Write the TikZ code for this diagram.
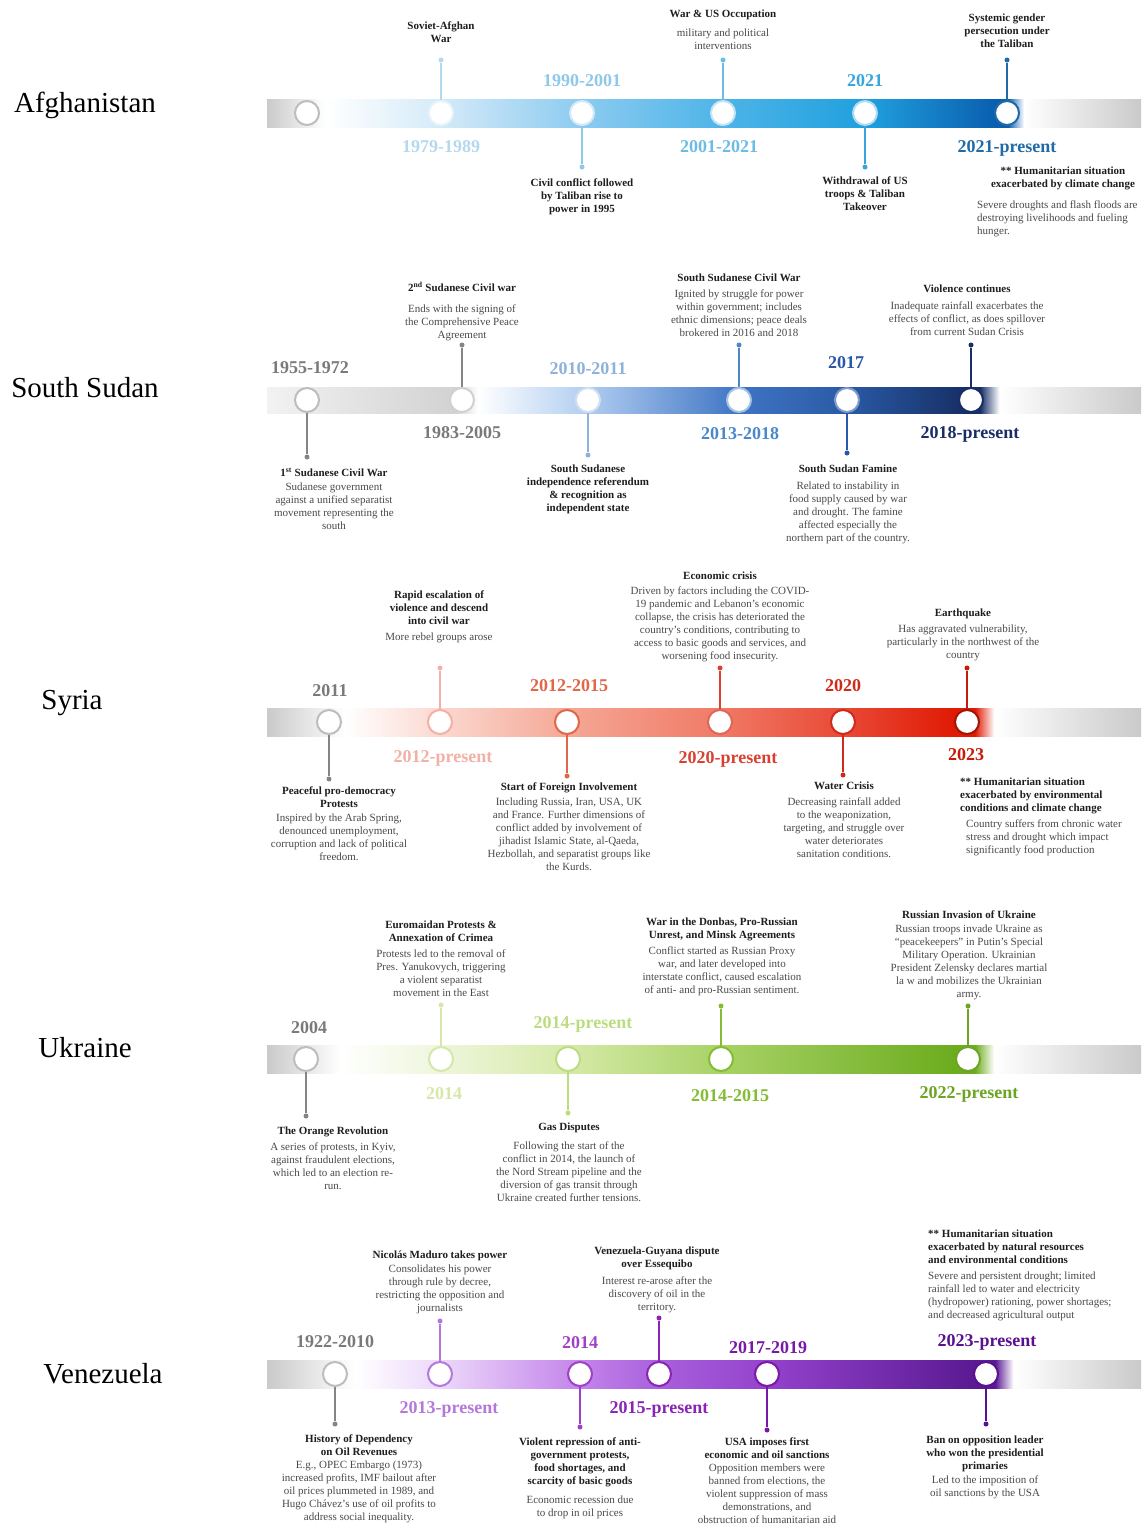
\documentclass[tikz,border=0pt]{standalone}
\usepackage{fontspec}
\setmainfont{Liberation Serif}
\usetikzlibrary{positioning}

% text colours
\definecolor{ttlc}{HTML}{1E1E1E}
\definecolor{bodyc}{HTML}{4A4A4A}
\definecolor{barGray}{HTML}{CACACA}
\definecolor{stemGray}{HTML}{858585}
\definecolor{ringGray}{HTML}{BDBDBD}
\definecolor{yrGray}{HTML}{7A7A7A}

% afghanistan
\definecolor{afg1}{HTML}{B4D8EE}
\definecolor{afg2}{HTML}{8EC8EA}
\definecolor{afg3}{HTML}{6CBCE6}
\definecolor{afg4}{HTML}{38A6DC}
\definecolor{afg5}{HTML}{1F6AA8}
\definecolor{afgbA}{HTML}{D4EAF8}
\definecolor{afgbB}{HTML}{8CCBF0}
\definecolor{afgbC}{HTML}{4DB4E8}
\definecolor{afgbD}{HTML}{20A0DE}
\definecolor{afgbE}{HTML}{0A5FB0}

% south sudan
\definecolor{ss1}{HTML}{8FB2DC}
\definecolor{ss2}{HTML}{4A88C8}
\definecolor{ss3}{HTML}{2A58A8}
\definecolor{ss4}{HTML}{1A2D66}
\definecolor{ssbA}{HTML}{F2F2F2}
\definecolor{ssbB}{HTML}{D2D2D2}
\definecolor{ssbC}{HTML}{B0CDF0}
\definecolor{ssbD}{HTML}{3F74C4}
\definecolor{ssbE}{HTML}{2A5AA5}
\definecolor{ssbF}{HTML}{162F66}

% syria
\definecolor{syr1}{HTML}{F2B0A6}
\definecolor{syr2}{HTML}{E06848}
\definecolor{syr3}{HTML}{D84030}
\definecolor{syr4}{HTML}{D02A1A}
\definecolor{syr5}{HTML}{C81A08}
\definecolor{syrbA}{HTML}{FBD8D0}
\definecolor{syrbB}{HTML}{F5A896}
\definecolor{syrbC}{HTML}{F07A66}
\definecolor{syrbD}{HTML}{E84A36}
\definecolor{syrbE}{HTML}{E01A04}

% ukraine
\definecolor{ukr1}{HTML}{D6E8A8}
\definecolor{ukr2}{HTML}{BCDC80}
\definecolor{ukr3}{HTML}{84BC34}
\definecolor{ukr4}{HTML}{6CA424}
\definecolor{ukrbA}{HTML}{EEF6DC}
\definecolor{ukrbB}{HTML}{D6EAA8}
\definecolor{ukrbC}{HTML}{A8D266}
\definecolor{ukrbD}{HTML}{6CAC1E}

% venezuela
\definecolor{ven1}{HTML}{B478DC}
\definecolor{ven2}{HTML}{A040C8}
\definecolor{ven3}{HTML}{8A24B8}
\definecolor{ven4}{HTML}{7A18A8}
\definecolor{ven5}{HTML}{5A1090}
\definecolor{venbA}{HTML}{ECD8FA}
\definecolor{venbB}{HTML}{C384EA}
\definecolor{venbC}{HTML}{A860DC}
\definecolor{venbD}{HTML}{9442CC}
\definecolor{venbE}{HTML}{5A1A92}

% bar shadings (25bp = left end of bar, 75bp = right end)
\pgfdeclarehorizontalshading{afgbar}{100bp}{color(0bp)=(barGray); color(25bp)=(barGray);
  color(28.3bp)=(white); color(34.95bp)=(afgbA); color(43.02bp)=(afgbB);
  color(51.09bp)=(afgbC); color(59.21bp)=(afgbD); color(66.65bp)=(afgbE);
  color(67.39bp)=(afgbE); color(68.3bp)=(white); color(75bp)=(barGray); color(100bp)=(barGray)}
\pgfdeclarehorizontalshading{ssbar}{100bp}{color(0bp)=(ssbA); color(25bp)=(ssbA);
  color(35.76bp)=(ssbB); color(37.07bp)=(white); color(43.36bp)=(ssbC);
  color(52bp)=(ssbD); color(58.18bp)=(ssbE); color(64.93bp)=(ssbF);
  color(65.79bp)=(ssbF); color(66.9bp)=(white); color(75bp)=(barGray); color(100bp)=(barGray)}
\pgfdeclarehorizontalshading{syrbar}{100bp}{color(0bp)=(barGray); color(25bp)=(barGray);
  color(29.46bp)=(white); color(34.9bp)=(syrbA); color(42.16bp)=(syrbB);
  color(50.92bp)=(syrbC); color(57.95bp)=(syrbD); color(64.36bp)=(syrbE);
  color(65.5bp)=(syrbE); color(66.6bp)=(white); color(75bp)=(barGray); color(100bp)=(barGray)}
\pgfdeclarehorizontalshading{ukrbar}{100bp}{color(0bp)=(barGray); color(25bp)=(barGray);
  color(29.18bp)=(white); color(34.95bp)=(ukrbA); color(42.22bp)=(ukrbB);
  color(50.97bp)=(ukrbC); color(64.36bp)=(ukrbD); color(65.5bp)=(ukrbD);
  color(66.6bp)=(white); color(75bp)=(barGray); color(100bp)=(barGray)}
\pgfdeclarehorizontalshading{venbar}{100bp}{color(0bp)=(barGray); color(25bp)=(barGray);
  color(30.03bp)=(white); color(34.9bp)=(venbA); color(42.91bp)=(venbB);
  color(47.43bp)=(venbC); color(53.61bp)=(venbD); color(65.5bp)=(venbE);
  color(66.65bp)=(venbE); color(67.7bp)=(white); color(75bp)=(barGray); color(100bp)=(barGray)}

\newcommand{\evtitle}[1]{\textcolor{ttlc}{\bfseries #1}}

\begin{document}
\begin{tikzpicture}[
  x=1pt, y=-1pt,
  evt/.style={circle,draw=#1,fill=white,line width=2pt,minimum size=24pt,inner sep=0pt},
  dot/.style={circle,fill=#1,inner sep=0pt,minimum size=5pt},
  stem/.style={draw=#1,line width=1.6pt},
  txt/.style={align=center,anchor=north,inner sep=0pt,text=bodyc,font=\fontsize{11}{13}\selectfont},
  note/.style={align=left,anchor=north west,inner sep=0pt,text=bodyc,font=\fontsize{11}{13}\selectfont},
  yr/.style={anchor=base,inner sep=0pt,text=#1,font=\fontsize{18}{20}\selectfont\bfseries},
  ctry/.style={inner sep=0pt,font=\fontsize{29}{32}\selectfont}
]
  \useasboundingbox (0,0) rectangle (1141,1524);
  \fill[white] (0,0) rectangle (1141,1524);

  % ---------------- afghanistan
  \node[ctry] (afg) at (85,105) {Afghanistan};
  \shade[shading=afgbar] (267,99) rectangle (1141,127);

  \node[evt=ringGray] (a1) at (307,113) {};
  \node[evt=afg1!30!white] (a2) at (441,113) {};
  \node[evt=afg2!40!white] (a3) at (582,113) {};
  \node[evt=afg3!40!white] (a4) at (723,113) {};
  \node[evt=afg4!40!white] (a5) at (865,113) {};
  \node[evt=afg5] (a6) at (1007,113) {};

  \node[dot=afg1] (a2d) at (441,60) {};
  \node[dot=afg2] (a3d) at (582,167) {};
  \node[dot=afg3] (a4d) at (723,60) {};
  \node[dot=afg4] (a5d) at (865,167) {};
  \node[dot=afg5] (a6d) at (1007,60) {};
  \draw[stem=afg1] (a2) -- (a2d);
  \draw[stem=afg2] (a3) -- (a3d);
  \draw[stem=afg3] (a4) -- (a4d);
  \draw[stem=afg4] (a5) -- (a5d);
  \draw[stem=afg5] (a6) -- (a6d);

  \node[yr=afg1] (a2y) at (441,152) {1979-1989};
  \node[yr=afg2] (a3y) at (582,86) {1990-2001};
  \node[yr=afg3] (a4y) at (719,152) {2001-2021};
  \node[yr=afg4] (a5y) at (865,86) {2021};
  \node[yr=afg5] (a6y) at (1007,152) {2021-present};

  \node[txt] (a2x) at (441,22) {\evtitle{Soviet-Afghan}\\\evtitle{War}};
  \node[txt] (a3x) at (582,179) {\evtitle{Civil conflict followed}\\\evtitle{by Taliban rise to}\\\evtitle{power in 1995}};
  \node[txt] (a4x) at (723,10) {\evtitle{War \& US Occupation}\\[6pt]military and political\\interventions};
  \node[txt] (a5x) at (865,177) {\evtitle{Withdrawal of US}\\\evtitle{troops \& Taliban}\\\evtitle{Takeover}};
  \node[txt] (a6x) at (1007,14) {\evtitle{Systemic gender}\\\evtitle{persecution under}\\\evtitle{the Taliban}};
  \node[txt] (a6n) at (1063,167) {\evtitle{** Humanitarian situation}\\\evtitle{exacerbated by climate change}};
  \node[note] (a6b) at (977,201) {Severe droughts and flash floods are\\destroying livelihoods and fueling\\hunger.};

  % ---------------- south sudan
  \node[ctry] (ss) at (85,388) {South Sudan};
  \shade[shading=ssbar] (267,387) rectangle (1141,413);

  \node[evt=ringGray] (s1) at (307,400) {};
  \node[evt=ringGray!70!white] (s2) at (462,400) {};
  \node[evt=ss1!40!white] (s3) at (588,400) {};
  \node[evt=ss2!50!white] (s4) at (739,400) {};
  \node[evt=ss3!60!white] (s5) at (847,400) {};
  \node[evt=ss4] (s6) at (971,400) {};

  \node[dot=stemGray] (s1d) at (307,457) {};
  \node[dot=stemGray] (s2d) at (462,345) {};
  \node[dot=ss1] (s3d) at (588,455) {};
  \node[dot=ss2] (s4d) at (739,345) {};
  \node[dot=ss3] (s5d) at (847,453) {};
  \node[dot=ss4] (s6d) at (971,345) {};
  \draw[stem=stemGray] (s1) -- (s1d);
  \draw[stem=stemGray] (s2) -- (s2d);
  \draw[stem=ss1] (s3) -- (s3d);
  \draw[stem=ss2] (s4) -- (s4d);
  \draw[stem=ss3] (s5) -- (s5d);
  \draw[stem=ss4] (s6) -- (s6d);

  \node[yr=yrGray] (s1y) at (310,373) {1955-1972};
  \node[yr=yrGray] (s2y) at (462,438) {1983-2005};
  \node[yr=ss1] (s3y) at (588,374) {2010-2011};
  \node[yr=ss2] (s4y) at (740,439) {2013-2018};
  \node[yr=ss3] (s5y) at (846,368) {2017};
  \node[yr=ss4] (s6y) at (970,438) {2018-present};

  \node[txt] (s1x) at (334,468) {\evtitle{1\textsuperscript{st} Sudanese Civil War}\\[1pt]Sudanese government\\against a unified separatist\\movement representing the\\south};
  \node[txt] (s2x) at (462,282) {\evtitle{2\textsuperscript{nd} Sudanese Civil war}\\[8pt]Ends with the signing of\\the Comprehensive Peace\\Agreement};
  \node[txt] (s3x) at (588,465) {\evtitle{South Sudanese}\\\evtitle{independence referendum}\\\evtitle{\& recognition as}\\\evtitle{independent state}};
  \node[txt] (s4x) at (739,274) {\evtitle{South Sudanese Civil War}\\[3pt]Ignited by struggle for power\\within government; includes\\ethnic dimensions; peace deals\\brokered in 2016 and 2018};
  \node[txt] (s5x) at (848,465) {\evtitle{South Sudan Famine}\\[4pt]Related to instability in\\food supply caused by war\\and drought. The famine\\affected especially the\\northern part of the country.};
  \node[txt] (s6x) at (967,285) {\evtitle{Violence continues}\\[4pt]Inadequate rainfall exacerbates the\\effects of conflict, as does spillover\\from current Sudan Crisis};

  % ---------------- syria
  \node[ctry] (syr) at (72,703) {Syria};
  \shade[shading=syrbar] (267,708) rectangle (1141,736);

  \node[evt=ringGray] (y1) at (329,722) {};
  \node[evt=syr1] (y2) at (440,722) {};
  \node[evt=syr2] (y3) at (567,722) {};
  \node[evt=syr3!80!white] (y4) at (720,722) {};
  \node[evt=syr4] (y5) at (843,722) {};
  \node[evt=syr5!80!black] (y6) at (967,722) {};

  \node[dot=stemGray] (y1d) at (329,779) {};
  \node[dot=syr1] (y2d) at (440,668) {};
  \node[dot=syr2] (y3d) at (567,776) {};
  \node[dot=syr3] (y4d) at (720,668) {};
  \node[dot=syr4] (y5d) at (843,775) {};
  \node[dot=syr5] (y6d) at (967,668) {};
  \draw[stem=stemGray] (y1) -- (y1d);
  \draw[stem=syr1] (y2) -- (y2d);
  \draw[stem=syr2] (y3) -- (y3d);
  \draw[stem=syr3] (y4) -- (y4d);
  \draw[stem=syr4] (y5) -- (y5d);
  \draw[stem=syr5] (y6) -- (y6d);

  \node[yr=yrGray] (y1y) at (330,696) {2011};
  \node[yr=syr1] (y2y) at (443,762) {2012-present};
  \node[yr=syr2] (y3y) at (569,691) {2012-2015};
  \node[yr=syr3] (y4y) at (728,763) {2020-present};
  \node[yr=syr4] (y5y) at (843,691) {2020};
  \node[yr=syr5] (y6y) at (966,760) {2023};

  \node[txt] (y1x) at (339,787) {\evtitle{Peaceful pro-democracy}\\\evtitle{Protests}\\[1pt]Inspired by the Arab Spring,\\denounced unemployment,\\corruption and lack of political\\freedom.};
  \node[txt] (y2x) at (439,591) {\evtitle{Rapid escalation of}\\\evtitle{violence and descend}\\\evtitle{into civil war}\\[3pt]More rebel groups arose};
  \node[txt] (y3x) at (569,783) {\evtitle{Start of Foreign Involvement}\\[2pt]Including Russia, Iran, USA, UK\\and France. Further dimensions of\\conflict added by involvement of\\jihadist Islamic State, al-Qaeda,\\Hezbollah, and separatist groups like\\the Kurds.};
  \node[txt] (y4x) at (720,572) {\evtitle{Economic crisis}\\[2pt]Driven by factors including the COVID-\\19 pandemic and Lebanon’s economic\\collapse, the crisis has deteriorated the\\country’s conditions, contributing to\\access to basic goods and services, and\\worsening food insecurity.};
  \node[txt] (y5x) at (844,782) {\evtitle{Water Crisis}\\[3pt]Decreasing rainfall added\\to the weaponization,\\targeting, and struggle over\\water deteriorates\\sanitation conditions.};
  \node[txt] (y6x) at (963,609) {\evtitle{Earthquake}\\[3pt]Has aggravated vulnerability,\\particularly in the northwest of the\\country};
  \node[note] (y6n) at (960,778) {\evtitle{** Humanitarian situation}\\\evtitle{exacerbated by environmental}\\\evtitle{conditions and climate change}};
  \node[note] (y6b) at (966,820) {Country suffers from chronic water\\stress and drought which impact\\significantly food production};

  % ---------------- ukraine
  \node[ctry] (ukr) at (85,1048) {Ukraine};
  \shade[shading=ukrbar] (267,1045) rectangle (1141,1073);

  \node[evt=ringGray] (u1) at (306,1059) {};
  \node[evt=ukr1] (u2) at (441,1059) {};
  \node[evt=ukr2] (u3) at (568,1059) {};
  \node[evt=ukr3] (u4) at (721,1059) {};
  \node[evt=ukr4] (u5) at (968,1059) {};

  \node[dot=stemGray] (u1d) at (306,1116) {};
  \node[dot=ukr1] (u2d) at (441,1005) {};
  \node[dot=ukr2] (u3d) at (568,1113) {};
  \node[dot=ukr3] (u4d) at (721,1006) {};
  \node[dot=ukr4] (u5d) at (968,1006) {};
  \draw[stem=stemGray] (u1) -- (u1d);
  \draw[stem=ukr1] (u2) -- (u2d);
  \draw[stem=ukr2] (u3) -- (u3d);
  \draw[stem=ukr3] (u4) -- (u4d);
  \draw[stem=ukr4] (u5) -- (u5d);

  \node[yr=yrGray] (u1y) at (309,1033) {2004};
  \node[yr=ukr1] (u2y) at (444,1099) {2014};
  \node[yr=ukr2] (u3y) at (583,1028) {2014-present};
  \node[yr=ukr3] (u4y) at (730,1101) {2014-2015};
  \node[yr=ukr4] (u5y) at (969,1098) {2022-present};

  \node[txt] (u1x) at (333,1127) {\evtitle{The Orange Revolution}\\[3pt]A series of protests, in Kyiv,\\against fraudulent elections,\\which led to an election re-\\run.};
  \node[txt] (u2x) at (441,921) {\evtitle{Euromaidan Protests \&}\\\evtitle{Annexation of Crimea}\\[3pt]Protests led to the removal of\\Pres. Yanukovych, triggering\\a violent separatist\\movement in the East};
  \node[txt] (u3x) at (569,1123) {\evtitle{Gas Disputes}\\[6pt]Following the start of the\\conflict in 2014, the launch of\\the Nord Stream pipeline and the\\diversion of gas transit through\\Ukraine created further tensions.};
  \node[txt] (u4x) at (722,918) {\evtitle{War in the Donbas, Pro-Russian}\\\evtitle{Unrest, and Minsk Agreements}\\[3pt]Conflict started as Russian Proxy\\war, and later developed into\\interstate conflict, caused escalation\\of anti- and pro-Russian sentiment.};
  \node[txt] (u5x) at (969,911) {\evtitle{Russian Invasion of Ukraine}\\[1pt]Russian troops invade Ukraine as\\“peacekeepers” in Putin’s Special\\Military Operation. Ukrainian\\President Zelensky declares martial\\la w and mobilizes the Ukrainian\\army.};

  % ---------------- venezuela
  \node[ctry] (ven) at (103,1374) {Venezuela};
  \shade[shading=venbar] (267,1360) rectangle (1141,1388);

  \node[evt=ringGray] (v1) at (335,1374) {};
  \node[evt=ven1] (v2) at (440,1374) {};
  \node[evt=ven2] (v3) at (580,1374) {};
  \node[evt=ven3] (v4) at (659,1374) {};
  \node[evt=ven4] (v5) at (767,1374) {};
  \node[evt=ven5] (v6) at (986,1374) {};

  \node[dot=stemGray] (v1d) at (335,1424) {};
  \node[dot=ven1] (v2d) at (440,1321) {};
  \node[dot=ven2] (v3d) at (580,1427) {};
  \node[dot=ven3] (v4d) at (659,1318) {};
  \node[dot=ven4] (v5d) at (767,1430) {};
  \node[dot=ven5] (v6d) at (986,1424) {};
  \draw[stem=stemGray] (v1) -- (v1d);
  \draw[stem=ven1] (v2) -- (v2d);
  \draw[stem=ven2] (v3) -- (v3d);
  \draw[stem=ven3] (v4) -- (v4d);
  \draw[stem=ven4] (v5) -- (v5d);
  \draw[stem=ven5] (v6) -- (v6d);

  \node[yr=yrGray] (v1y) at (335,1347) {1922-2010};
  \node[yr=ven1] (v2y) at (449,1413) {2013-present};
  \node[yr=ven2] (v3y) at (580,1348) {2014};
  \node[yr=ven3] (v4y) at (659,1413) {2015-present};
  \node[yr=ven4] (v5y) at (768,1353) {2017-2019};
  \node[yr=ven5] (v6y) at (987,1346) {2023-present};

  \node[txt] (v1x) at (359,1435) {\evtitle{History of Dependency}\\\evtitle{on Oil Revenues}\\E.g., OPEC Embargo (1973)\\increased profits, IMF bailout after\\oil prices plummeted in 1989, and\\Hugo Chávez’s use of oil profits to\\address social inequality.};
  \node[txt] (v2x) at (440,1251) {\evtitle{Nicolás Maduro takes power}\\[1pt]Consolidates his power\\through rule by decree,\\restricting the opposition and\\journalists};
  \node[txt] (v3x) at (580,1438) {\evtitle{Violent repression of anti-}\\\evtitle{government protests,}\\\evtitle{food shortages, and}\\\evtitle{scarcity of basic goods}\\[6pt]Economic recession due\\to drop in oil prices};
  \node[txt] (v4x) at (657,1247) {\evtitle{Venezuela-Guyana dispute}\\\evtitle{over Essequibo}\\[4pt]Interest re-arose after the\\discovery of oil in the\\territory.};
  \node[txt] (v5x) at (767,1438) {\evtitle{USA imposes first}\\\evtitle{economic and oil sanctions}\\Opposition members were\\banned from elections, the\\violent suppression of mass\\demonstrations, and\\obstruction of humanitarian aid};
  \node[txt] (v6x) at (985,1436) {\evtitle{Ban on opposition leader}\\\evtitle{who won the presidential}\\\evtitle{primaries}\\[1pt]Led to the imposition of\\oil sanctions by the USA};
  \node[note] (v6n) at (928,1230) {\evtitle{** Humanitarian situation}\\\evtitle{exacerbated by natural resources}\\\evtitle{and environmental conditions}\\[3pt]Severe and persistent drought; limited\\rainfall led to water and electricity\\(hydropower) rationing, power shortages;\\and decreased agricultural output};
\end{tikzpicture}
\end{document}
